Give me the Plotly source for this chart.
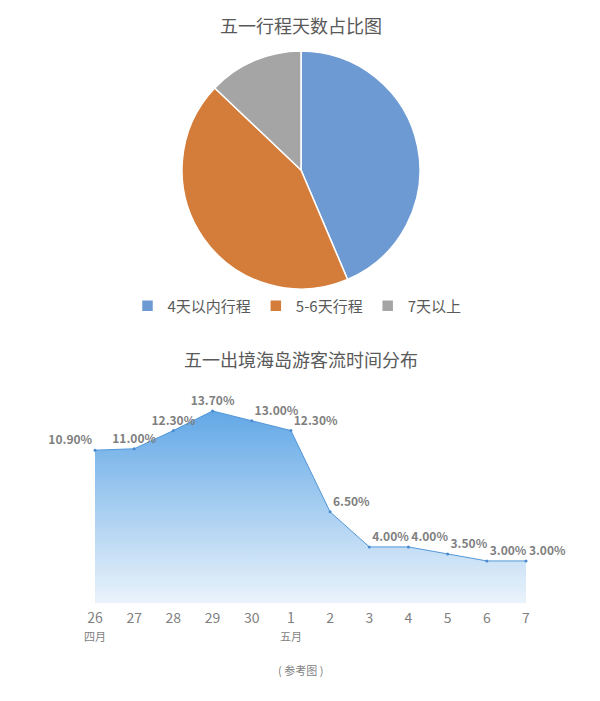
import plotly.graph_objects as go

# Pie: share of trip lengths
pie_labels = ["4天以内行程", "5-6天行程", "7天以上"]
pie_values = [43.6, 43.5, 12.9]
pie_colors = ["#6E9AD3", "#D47D3A", "#A5A5A5"]

# Line: daily outbound island traffic share
days = ["26", "27", "28", "29", "30", "1", "2", "3", "4", "5", "6", "7"]
months = ["四月", "", "", "", "", "五月", "", "", "", "", "", ""]
share = [10.9, 11.0, 12.3, 13.7, 13.0, 12.3, 6.5, 4.0, 4.0, 3.5, 3.0, 3.0]

FONT = "Noto Sans CJK SC"
W, H = 600, 701
OFF = 8  # page body margin offsets the figure


def px(pixel_x):
    return (pixel_x - OFF) / W


def py(pixel_y):
    return 1 - (pixel_y - OFF) / H


fig = go.Figure()

fig.add_trace(
    go.Pie(
        labels=pie_labels,
        values=pie_values,
        marker=dict(colors=pie_colors, line=dict(color="white", width=1.5)),
        sort=False,
        direction="clockwise",
        rotation=0,
        textinfo="none",
        hoverinfo="label+percent",
        domain=dict(x=[px(181), px(421)], y=[py(289), py(51)]),
    )
)

ticktext = [
    f"{d}<br><span style='font-size:11px'>{m}</span>" if m else d
    for d, m in zip(days, months)
]
text_pos = ["top left", "top center", "top center", "top center"] + ["top right"] * 8

fig.add_trace(
    go.Scatter(
        x=days,
        y=share,
        mode="lines+markers+text",
        line=dict(color="#5296D6", width=1),
        marker=dict(size=3, color="#4A8AD0"),
        fill="tozeroy",
        fillgradient=dict(
            type="vertical",
            start=0,
            stop=14,
            colorscale=[[0, "#EAF3FB"], [1, "#5FA6E6"]],
        ),
        text=[f"{v:.2f}%" for v in share],
        textposition=text_pos,
        textfont=dict(family=FONT, size=12, color="#7F7F7F", weight="bold"),
        showlegend=False,
        cliponaxis=False,
        xaxis="x",
        yaxis="y",
    )
)

fig.update_layout(
    width=W,
    height=H,
    margin=dict(l=0, r=0, t=0, b=0, autoexpand=False),
    paper_bgcolor="white",
    plot_bgcolor="white",
    font=dict(family=FONT, color="#595959"),
    showlegend=True,
    legend=dict(
        orientation="h",
        x=px(297),
        xanchor="center",
        y=py(306),
        yanchor="middle",
        font=dict(size=15, color="#595959"),
        itemwidth=30,
    ),
    xaxis=dict(
        type="category",
        domain=[px(95), px(526)],
        range=[0, 11],
        anchor="y",
        automargin=False,
        showgrid=False,
        zeroline=False,
        showline=False,
        ticks="",
        tickmode="array",
        tickvals=days,
        ticktext=ticktext,
        ticklabelstandoff=5,
        tickfont=dict(size=14, color="#7F7F7F"),
        fixedrange=True,
    ),
    yaxis=dict(
        domain=[py(603), py(392.7)],
        range=[0, 15],
        anchor="x",
        automargin=False,
        visible=False,
        fixedrange=True,
    ),
    annotations=[
        dict(
            text="五一行程天数占比图",
            x=px(301), y=py(25), xref="paper", yref="paper",
            xanchor="center", yanchor="middle",
            showarrow=False, font=dict(size=18, color="#595959"),
        ),
        dict(
            text="五一出境海岛游客流时间分布",
            x=px(301), y=py(359), xref="paper", yref="paper",
            xanchor="center", yanchor="middle",
            showarrow=False, font=dict(size=18, color="#595959"),
        ),
        dict(
            text="( 参考图 )",
            x=px(300), y=py(670), xref="paper", yref="paper",
            xanchor="center", yanchor="middle",
            showarrow=False, font=dict(size=11, color="#7F7F7F"),
        ),
    ],
)

fig.write_html("out.html")
